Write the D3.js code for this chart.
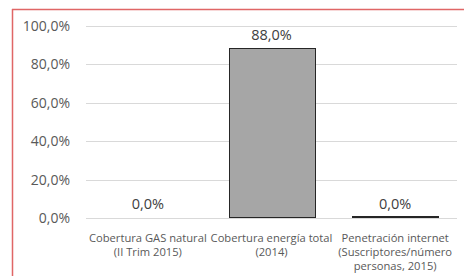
<!DOCTYPE html>
<meta charset="utf-8">
<style>
    body { margin: 0; background: #fff; }
    svg { display: block; }
    .grid line { stroke: #d9d9d9; stroke-width: 1px; }
    .tick-label { font: 14px "Open Sans", sans-serif; fill: #595959; }
    .val-label { font: 14.5px "Open Sans", sans-serif; fill: #404040; }
    .cat-label { font: 11.2px "Open Sans", sans-serif; fill: #595959; }
    .bar { fill: #a6a6a6; stroke: #262626; stroke-width: 1px; }
</style>
<svg id="chart" width="464" height="276"></svg>
<script src="https://cdnjs.cloudflare.com/ajax/libs/d3/7.8.5/d3.min.js"></script>
<script>
    var categories = [
        ["Cobertura GAS natural", "(II Trim 2015)"],
        ["Cobertura energía total", "(2014)"],
        ["Penetración internet", "(Suscriptores/número", "personas, 2015)"]
    ];
    var values = [0, 0.88, 0.0004];
    var tickValues = [0, 0.2, 0.4, 0.6, 0.8, 1.0];

    var svg = d3.select("#chart");
    var fmt = function (v) {
        return d3.format(".1f")(v * 100).replace(".", ",") + "%";
    };

    var x = d3.scaleBand()
        .domain(d3.range(values.length))
        .range([86, 457])
        .paddingInner(0.305)
        .paddingOuter(0.1525);

    var y = d3.scaleLinear()
        .domain([0, 1])
        .range([218, 26]);

    // outer frame: only top and left edges visible
    svg.append("line")
        .attr("x1", 12).attr("x2", 464)
        .attr("y1", 9.5).attr("y2", 9.5)
        .attr("stroke", "#e06666").attr("stroke-width", 1.5);
    svg.append("line")
        .attr("x1", 12.5).attr("x2", 12.5)
        .attr("y1", 9).attr("y2", 276)
        .attr("stroke", "#e06666").attr("stroke-width", 1.5);

    var grid = svg.append("g").attr("class", "grid");
    grid.selectAll("line")
        .data(tickValues)
        .enter().append("line")
        .attr("x1", 86).attr("x2", 457)
        .attr("y1", function (d) { return Math.round(y(d)) + 0.5; })
        .attr("y2", function (d) { return Math.round(y(d)) + 0.5; });

    svg.append("g").selectAll("text")
        .data(tickValues)
        .enter().append("text")
        .attr("class", "tick-label")
        .attr("x", 70)
        .attr("y", function (d) { return y(d) + 5; })
        .attr("text-anchor", "end")
        .text(fmt);

    // tiny non-zero values still show as a thin outlined bar
    svg.append("g").selectAll("rect")
        .data(values)
        .enter().append("rect")
        .attr("class", "bar")
        .attr("x", function (d, i) { return Math.round(x(i)) + 0.5; })
        .attr("width", Math.round(x.bandwidth()))
        .attr("y", function (d) { return Math.min(Math.round(y(d)), Math.round(y(0)) - 1) - 0.5; })
        .attr("height", function (d) { return Math.max(1, Math.round(y(0)) - Math.round(y(d))); })
        .style("display", function (d) { return d > 0 ? null : "none"; });

    svg.append("g").selectAll("text")
        .data(values)
        .enter().append("text")
        .attr("class", "val-label")
        .attr("x", function (d, i) { return x(i) + x.bandwidth() / 2; })
        .attr("y", function (d) { return y(d) - 9; })
        .attr("text-anchor", "middle")
        .text(fmt);

    var cats = svg.append("g").selectAll("text")
        .data(categories)
        .enter().append("text")
        .attr("class", "cat-label")
        .attr("text-anchor", "middle")
        .attr("x", function (d, i) { return x(i) + x.bandwidth() / 2; })
        .attr("y", 242);
    cats.selectAll("tspan")
        .data(function (d) { return d; })
        .enter().append("tspan")
        .attr("x", function () { return d3.select(this.parentNode).attr("x"); })
        .attr("dy", function (d, j) { return j === 0 ? 0 : 13.8; })
        .text(function (d) { return d; });
</script>
